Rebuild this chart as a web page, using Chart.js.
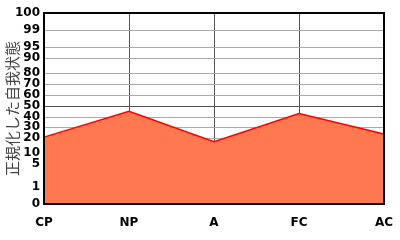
<!DOCTYPE html>
<html>
<head>
<meta charset="utf-8">
<script src="https://cdn.jsdelivr.net/npm/chart.js@4"></script>
<style>body{margin:0;background:#fff}</style>
</head>
<body>
<canvas id="egogram" width="400" height="240"></canvas>
<script>
// Egogram categories
const categories = ["CP", "NP", "A", "FC", "AC"];
// height of each point on the axis (0 = bottom, 100 = top)
const scores = [35, 48.6, 32.6, 47.4, 36.6];
// the percentile lines are not evenly spaced, so keep where each sits and its label
const tickPos = [0, 8.9, 12, 20.9, 26.7, 34.5, 40.3, 45.5, 51.2, 57, 62.7, 68.5, 76.3, 82.1, 91, 100];
const tickLabels = ["0", "1", "", "5", "10", "20", "30", "40", "50", "60", "70", "80", "90", "95", "99", "100"];
// the "1" label sits a bit below its line in the original, so it gets no line of its own
const noLine = [8.9];
const midLine = 51.2;

// black frame round the plot (top and right sides aren't drawn by the axes)
const framePlugin = {
  id: "frame",
  afterDraw(chart) {
    const a = chart.chartArea;
    const ctx = chart.ctx;
    ctx.save();
    ctx.strokeStyle = "#000";
    ctx.lineWidth = 2;
    ctx.strokeRect(a.left, a.top, a.right - a.left, a.bottom - a.top);
    ctx.restore();
  }
};

const tickFont = { family: "DejaVu Sans", size: 12, weight: "bold" };

new Chart(document.getElementById("egogram"), {
  type: "line",
  data: {
    labels: categories,
    datasets: [{
      data: scores,
      borderColor: "#ff0000",
      borderWidth: 1.5,
      backgroundColor: "#ff7850",
      fill: "origin",
      pointRadius: 0,
      tension: 0
    }]
  },
  options: {
    responsive: false,
    animation: false,
    devicePixelRatio: 1,
    layout: { padding: { top: 13, right: 0, bottom: 0, left: 0 } },
    plugins: { legend: { display: false }, tooltip: { enabled: false } },
    scales: {
      x: {
        z: 1,
        offset: false,
        grid: { color: "#555", drawTicks: false },
        border: { color: "#000", width: 2 },
        ticks: { color: "#000", font: tickFont, padding: 12, maxRotation: 0 },
        afterFit(scale) {
          scale.height = 36;
          scale.paddingLeft = 0;
          scale.paddingRight = 16;
        }
      },
      y: {
        z: 1,
        min: 0,
        max: 100,
        grid: {
          drawTicks: false,
          color: (c) => {
            const v = c.tick ? c.tick.value : null;
            if (noLine.includes(v)) return "rgba(0,0,0,0)";
            return v === midLine ? "#555" : "#aaa";
          }
        },
        border: { color: "#000", width: 2 },
        afterBuildTicks(scale) {
          scale.ticks = tickPos.map((v) => ({ value: v }));
        },
        ticks: {
          color: "#000",
          font: tickFont,
          padding: 4,
          autoSkip: false,
          callback: (v) => tickLabels[tickPos.indexOf(v)]
        },
        title: {
          display: true,
          text: "正規化した自我状態",
          color: "#444",
          font: { family: "Noto Sans CJK JP", size: 15 },
          padding: { top: 3, bottom: 0 }
        },
        afterFit(scale) { scale.width = 44; }
      }
    }
  },
  plugins: [framePlugin]
});
</script>
</body>
</html>
